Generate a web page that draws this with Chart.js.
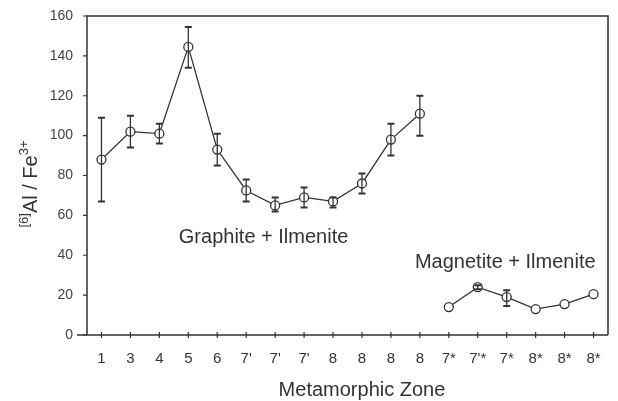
<!DOCTYPE html>
<html>
<head>
<meta charset="utf-8">
<script src="https://cdn.jsdelivr.net/npm/chart.js@4.4.1/dist/chart.umd.min.js"></script>
<style>
  body { margin: 0; background: #fff; }
  #wrap { width: 618px; height: 401px; }
</style>
</head>
<body>
<div id="wrap"><canvas id="myChart" width="618" height="401"></canvas></div>
<script>
const zones = ["1", "3", "4", "5", "6", "7'", "7'", "7'", "8", "8", "8", "8", "7*", "7'*", "7*", "8*", "8*", "8*"];
const yTicks = [0, 20, 40, 60, 80, 100, 120, 140, 160];

// Graphite + Ilmenite (first 12 zones)
const graphite = [88, 102, 101, 144.5, 93, 72.5, 65, 69, 67, 76, 98, 111,
  null, null, null, null, null, null];
const graphiteHi = [109, 110, 106, 154.5, 101, 78, 69, 74, 69, 81, 106, 120];
const graphiteLo = [67, 94, 96, 134, 85, 67, 62, 64, 64, 71, 90, 100];

// Magnetite + Ilmenite (last 6 zones)
const magnetite = [null, null, null, null, null, null, null, null, null, null, null, null,
  14, 24, 19, 13, 15.5, 20.5];
const magnetiteHi = [14, 25, 22.5, 13, 15.5, 20.5];
const magnetiteLo = [14, 23, 14.5, 13, 15.5, 20.5];

const ink = "#333";
const face = "'Liberation Sans', Arial, sans-serif";

const errorBars = {
  id: "errorBars",
  afterDatasetsDraw(chart) {
    const { ctx, scales: { x, y } } = chart;
    const bars = [
      { start: 0, hi: graphiteHi, lo: graphiteLo },
      { start: 12, hi: magnetiteHi, lo: magnetiteLo },
    ];
    ctx.save();
    ctx.strokeStyle = ink;
    bars.forEach(b => {
      b.hi.forEach((h, i) => {
        const l = b.lo[i];
        if (h - l < 1.5) return;
        const px = x.getPixelForValue(b.start + i);
        const top = y.getPixelForValue(h);
        const bot = y.getPixelForValue(l);
        ctx.lineWidth = 1.3;
        ctx.beginPath();
        ctx.moveTo(px, top);
        ctx.lineTo(px, bot);
        ctx.stroke();
        ctx.lineWidth = 2;
        ctx.beginPath();
        ctx.moveTo(px - 3.5, top);
        ctx.lineTo(px + 3.5, top);
        ctx.moveTo(px - 3.5, bot);
        ctx.lineTo(px + 3.5, bot);
        ctx.stroke();
      });
    });
    ctx.restore();
  },
  beforeDatasetsDraw(chart) {
    // the frame and the axis lines
    const { ctx, chartArea: a, scales: { x, y } } = chart;
    const y0 = y.getPixelForValue(0);
    ctx.save();
    ctx.strokeStyle = ink;
    ctx.lineWidth = 1.5;
    ctx.beginPath();
    ctx.moveTo(a.left, y0);
    ctx.lineTo(a.left, a.top);
    ctx.lineTo(a.right, a.top);
    ctx.lineTo(a.right, y0);
    ctx.moveTo(a.left - 10, y0);
    ctx.lineTo(a.right, y0);
    ctx.stroke();
    ctx.lineWidth = 1.2;
    ctx.beginPath();
    yTicks.forEach(t => {
      const py = y.getPixelForValue(t);
      ctx.moveTo(a.left - 4, py);
      ctx.lineTo(a.left, py);
    });
    zones.forEach((z, i) => {
      const px = x.getPixelForValue(i);
      ctx.moveTo(px, y0 - 3);
      ctx.lineTo(px, y0 + 3);
    });
    ctx.stroke();

    // curve labels and x title
    ctx.fillStyle = "#333";
    ctx.font = "20px " + face;
    ctx.textBaseline = "middle";
    ctx.textAlign = "center";
    ctx.fillText("Graphite + Ilmenite", x.getPixelForValue(5.6), y.getPixelForValue(49));
    ctx.fillText("Magnetite + Ilmenite", x.getPixelForValue(13.95), y.getPixelForValue(36.5));
    ctx.fillText("Metamorphic Zone", x.getPixelForValue(9.0), 390);

    // y-axis title with superscripts
    const parts = [
      ["[6]", true], ["Al / Fe", false], ["3+", true],
    ];
    const big = "20px " + face;
    const small = "13px " + face;
    let total = 0;
    parts.forEach(p => { ctx.font = p[1] ? small : big; total += ctx.measureText(p[0]).width; });
    ctx.translate(37, 184);
    ctx.rotate(-Math.PI / 2);
    ctx.textAlign = "left";
    ctx.textBaseline = "alphabetic";
    let cx = -total / 2;
    parts.forEach(p => {
      ctx.font = p[1] ? small : big;
      ctx.fillText(p[0], cx, p[1] ? -9 : 0);
      cx += ctx.measureText(p[0]).width;
    });
    ctx.restore();
  },
};

const ctx = document.getElementById("myChart");

new Chart(ctx, {
  type: "line",
  data: {
    labels: zones,
    datasets: [
      {
        label: "Graphite + Ilmenite",
        data: graphite,
        borderColor: ink,
        borderWidth: 1.3,
        pointRadius: 4.5,
        pointBackgroundColor: "#fff",
        pointBorderColor: ink,
        pointBorderWidth: 1.3,
        tension: 0,
      },
      {
        label: "Magnetite + Ilmenite",
        data: magnetite,
        borderColor: ink,
        borderWidth: 1.3,
        pointRadius: 4.5,
        pointBackgroundColor: "#fff",
        pointBorderColor: ink,
        pointBorderWidth: 1.3,
        tension: 0,
      },
    ],
  },
  options: {
    responsive: false,
    animation: false,
    layout: { padding: { top: 16, right: 10, left: 0, bottom: 0 } },
    plugins: {
      legend: { display: false },
      tooltip: { enabled: false },
    },
    scales: {
      x: {
        offset: true,
        grid: { display: false },
        border: { display: false },
        ticks: {
          color: "#333",
          padding: 7,
          maxRotation: 0,
          autoSkip: false,
          font: { family: face, size: 15 },
        },
        afterFit(scale) { scale.height = 66; },
      },
      y: {
        min: 0,
        max: 160,
        grid: { display: false },
        border: { display: false },
        afterBuildTicks(scale) { scale.ticks = yTicks.map(v => ({ value: v })); },
        ticks: {
          color: "#444",
          padding: 6,
          font: { family: face, size: 14 },
        },
        afterFit(scale) { scale.width = 87; },
      },
    },
  },
  plugins: [errorBars],
});
</script>
</body>
</html>
